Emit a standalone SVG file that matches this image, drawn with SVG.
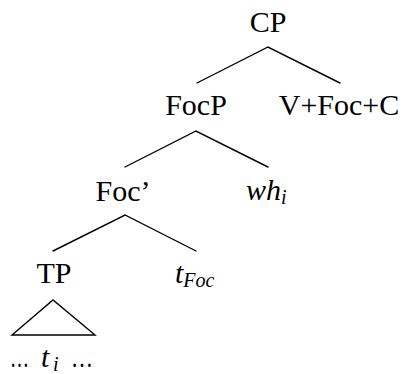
<svg xmlns="http://www.w3.org/2000/svg" width="403" height="374" viewBox="0 0 403 374">
<style>
text{font-family:"Liberation Serif","Times New Roman",serif;font-size:30px;fill:#000}
.m{text-anchor:middle}
.it{font-style:italic}
.sub{font-style:italic;font-size:20px}
.e{stroke:#000;stroke-width:1.4;fill:none;stroke-linecap:round}
</style>
<rect width="403" height="374" fill="#fff"/>
<g id="connectors">
<path class="e" d="M197 83 L268 47 L340 83"/>
<path class="e" d="M125 167 L196 131 L268 167"/>
<path class="e" d="M53 251 L125 215 L196 251"/>
<path class="e" d="M12 335 L53 300 L95 335 Z" stroke-linejoin="miter"/>
</g>
<g id="CP"><text class="m" x="268" y="32">CP</text></g>
<g id="FocP"><text class="m" x="196" y="115">FocP</text></g>
<g id="VFocC"><text class="m" x="339" y="115">V+Foc+C</text></g>
<g id="Focbar"><text class="m" x="123" y="201">Foc’</text></g>
<g id="wh"><text x="246" y="200"><tspan class="it">wh</tspan><tspan class="sub" dy="4">i</tspan></text></g>
<g id="TP"><text class="m" x="54" y="283">TP</text></g>
<g id="tFoc"><text x="175" y="283"><tspan class="it">t</tspan><tspan class="sub" dy="4">Foc</tspan></text></g>
<g id="ti">
<text x="10" y="367" textLength="19" lengthAdjust="spacingAndGlyphs">…</text>
<text class="it" x="41" y="367">t</text>
<text class="sub" x="53" y="371">i</text>
<text x="71" y="367" textLength="22" lengthAdjust="spacingAndGlyphs">…</text>
</g>
</svg>
